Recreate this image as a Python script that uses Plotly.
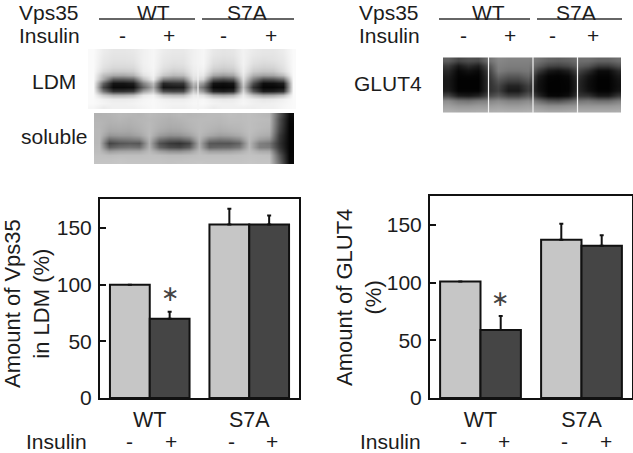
import plotly.graph_objects as go

W, H = 633, 453
FONT = "Liberation Sans"
INK = "#1c1c1c"

# ---- bar data ----
groups = ["WT", "S7A"]
vps35_minus = [100, 153]
vps35_plus = [70, 153]
vps35_minus_err = [0, 14]
vps35_plus_err = [6, 8]
glut4_minus = [101, 137]
glut4_plus = [59, 132]
glut4_minus_err = [0, 14]
glut4_plus_err = [12, 9]

# ---- blot grey levels (rows top to bottom, columns left to right) ----
ldm_cols = [93, 103, 113, 123, 133, 143, 153, 163, 173, 183, 193, 203, 213, 223, 233, 243, 253, 263, 273, 283, 293]
ldm_rows = [51, 55, 59, 63, 67, 71, 75, 79, 83, 87, 91, 95, 99, 103, 107]
ldm_grey = [
    [250, 236, 230, 230, 232, 240, 246, 236, 232, 232, 240, 246, 232, 228, 230, 242, 234, 230, 230, 236, 250],
    [250, 234, 228, 228, 230, 240, 246, 234, 230, 230, 240, 246, 230, 226, 228, 242, 232, 228, 228, 234, 250],
    [250, 232, 226, 226, 228, 240, 246, 232, 228, 228, 240, 246, 226, 222, 224, 242, 228, 224, 226, 232, 250],
    [250, 230, 222, 222, 224, 240, 246, 230, 224, 226, 240, 246, 222, 216, 220, 242, 224, 218, 220, 230, 250],
    [250, 226, 216, 216, 218, 238, 246, 226, 218, 220, 238, 244, 214, 208, 212, 240, 216, 210, 212, 226, 250],
    [250, 216, 202, 202, 206, 236, 244, 218, 206, 210, 236, 240, 200, 192, 198, 238, 204, 196, 198, 220, 250],
    [250, 190, 170, 168, 178, 225, 242, 200, 184, 188, 232, 232, 168, 156, 166, 232, 176, 162, 166, 190, 250],
    [250, 170, 90, 90, 100, 190, 236, 130, 120, 126, 224, 210, 90, 76, 90, 222, 130, 80, 84, 110, 250],
    [250, 100, 20, 20, 30, 130, 190, 40, 50, 54, 190, 150, 20, 14, 22, 206, 80, 14, 16, 30, 250],
    [250, 70, 10, 10, 14, 100, 170, 20, 24, 28, 170, 110, 8, 6, 10, 192, 50, 6, 6, 14, 250],
    [250, 120, 50, 50, 60, 160, 200, 80, 70, 74, 205, 150, 40, 30, 42, 214, 90, 28, 32, 50, 250],
    [250, 205, 180, 180, 190, 232, 242, 200, 190, 190, 236, 225, 180, 170, 180, 236, 190, 165, 170, 190, 250],
    [250, 240, 234, 234, 236, 244, 248, 240, 236, 236, 244, 246, 236, 232, 234, 244, 236, 230, 232, 240, 250],
    [250, 244, 240, 240, 242, 246, 248, 244, 242, 242, 246, 248, 242, 240, 240, 246, 240, 238, 240, 244, 250],
    [246, 236, 240, 240, 240, 244, 248, 244, 240, 240, 244, 244, 236, 240, 240, 240, 238, 240, 240, 246, 250],
]

soluble_cols = [99, 109, 119, 129, 139, 149, 159, 169, 179, 189, 199, 209, 219, 229, 239, 249, 259, 269, 279, 289]
soluble_rows = [115, 119, 123, 127, 131, 135, 139, 143, 147, 151, 155, 159, 163]
soluble_grey = [
    [178, 180, 184, 182, 180, 186, 182, 180, 184, 182, 184, 186, 186, 190, 188, 190, 186, 182, 90, 12],
    [180, 178, 182, 178, 182, 184, 180, 176, 180, 184, 186, 186, 184, 188, 188, 190, 188, 186, 80, 8],
    [182, 176, 178, 176, 180, 186, 178, 174, 176, 182, 186, 184, 182, 186, 186, 190, 186, 184, 80, 6],
    [182, 172, 174, 172, 178, 186, 176, 170, 172, 180, 186, 182, 178, 182, 184, 190, 186, 182, 75, 5],
    [184, 166, 168, 166, 174, 186, 170, 162, 164, 174, 186, 178, 172, 176, 180, 190, 182, 178, 70, 4],
    [184, 150, 154, 154, 164, 186, 156, 144, 146, 160, 184, 168, 158, 162, 170, 188, 176, 170, 60, 4],
    [184, 110, 120, 124, 132, 180, 118, 100, 100, 120, 180, 130, 120, 125, 140, 186, 160, 150, 55, 4],
    [184, 68, 84, 90, 86, 174, 82, 58, 50, 70, 172, 88, 84, 84, 100, 182, 128, 118, 50, 4],
    [186, 96, 110, 116, 112, 178, 100, 76, 70, 92, 176, 100, 104, 106, 120, 184, 128, 124, 55, 4],
    [188, 156, 164, 166, 166, 186, 160, 146, 144, 156, 186, 160, 160, 162, 170, 190, 172, 170, 70, 4],
    [192, 188, 190, 190, 190, 192, 190, 186, 186, 188, 192, 190, 190, 190, 192, 194, 192, 190, 90, 5],
    [194, 194, 196, 194, 194, 194, 194, 192, 192, 194, 194, 194, 194, 194, 194, 196, 194, 194, 100, 6],
    [196, 196, 198, 196, 196, 196, 196, 194, 196, 196, 198, 196, 196, 196, 196, 198, 196, 196, 110, 8],
]

glut4_cols = [448, 458, 468, 478, 488, 498, 508, 518, 528, 538, 548, 558, 568, 578, 588, 598, 608, 618]
glut4_rows = [60, 65, 70, 75, 80, 85, 90, 95, 100, 105, 110]
glut4_grey = [
    [95, 70, 80, 75, 110, 135, 130, 130, 130, 115, 100, 95, 100, 110, 110, 100, 100, 110],
    [60, 25, 45, 30, 80, 130, 125, 125, 125, 95, 70, 65, 75, 95, 85, 60, 60, 80],
    [40, 8, 18, 10, 60, 125, 115, 115, 120, 60, 25, 18, 30, 70, 45, 12, 12, 40],
    [30, 4, 6, 4, 50, 105, 90, 90, 105, 30, 6, 4, 10, 50, 22, 4, 4, 25],
    [25, 2, 2, 2, 45, 85, 65, 65, 85, 20, 3, 2, 5, 40, 15, 2, 2, 18],
    [25, 2, 2, 2, 45, 70, 35, 35, 65, 18, 2, 2, 4, 38, 14, 2, 2, 16],
    [30, 3, 3, 3, 45, 65, 25, 25, 60, 20, 2, 2, 4, 40, 18, 3, 3, 20],
    [70, 30, 25, 35, 70, 90, 65, 65, 90, 40, 8, 6, 14, 55, 50, 25, 25, 55],
    [140, 120, 115, 125, 130, 140, 130, 130, 140, 110, 85, 80, 95, 115, 120, 110, 110, 125],
    [160, 150, 150, 155, 155, 160, 155, 155, 160, 150, 140, 140, 145, 150, 150, 150, 150, 155],
    [175, 170, 170, 172, 172, 175, 172, 172, 175, 170, 165, 165, 168, 170, 170, 170, 170, 172],
]


def dom_x(a, b):
    return [a / W, b / W]


def dom_y(top, bottom):
    return [1 - bottom / H, 1 - top / H]


fig = go.Figure()


def add_bars(name_minus, name_plus, vm, vp, em, ep, xa, ya):
    for name, vals, errs, col in [(name_minus, vm, em, "#c6c6c6"), (name_plus, vp, ep, "#454545")]:
        fig.add_trace(go.Bar(
            x=groups, y=vals, name=name, xaxis=xa, yaxis=ya, offsetgroup=name,
            marker=dict(color=col, line=dict(color="#111111", width=2)),
            error_y=dict(type="data", symmetric=False, array=errs, arrayminus=[0, 0],
                         color="#111111", thickness=2, width=2),
            showlegend=False,
        ))


add_bars("WT-", "WT+", vps35_minus, vps35_plus, vps35_minus_err, vps35_plus_err, "x", "y")
add_bars("G-", "G+", glut4_minus, glut4_plus, glut4_minus_err, glut4_plus_err, "x2", "y2")


def add_blot(cols, rows, grey, xa, ya):
    fig.add_trace(go.Heatmap(
        x=cols, y=rows, z=grey, xaxis=xa, yaxis=ya, zmin=0, zmax=255, zsmooth="best",
        colorscale=[[0, "#000000"], [1, "#ffffff"]], showscale=False, hoverinfo="skip",
    ))


add_blot(ldm_cols, ldm_rows, ldm_grey, "x3", "y3")
add_blot(soluble_cols, soluble_rows, soluble_grey, "x4", "y4")
add_blot(glut4_cols, glut4_rows, glut4_grey, "x5", "y5")

tick = dict(size=21, family=FONT, color=INK)
cat_tick = dict(size=21.5, family=FONT, color=INK)


def val_axis(top, bottom, rng):
    return dict(domain=dom_y(top, bottom), range=rng, tickvals=[0, 50, 100, 150], ticks="inside", ticklen=6,
                tickwidth=2, tickcolor="#111111", showline=True, linewidth=2, linecolor="#111111", mirror=True,
                showgrid=False, zeroline=False, tickfont=tick, ticklabelstandoff=2, automargin=False)


def cat_axis(a, b, anchor):
    return dict(domain=dom_x(a, b), range=[-0.5, 1.5], type="category", showline=True, linewidth=2,
                linecolor="#111111", mirror=True, ticks="", showgrid=False, tickfont=cat_tick, anchor=anchor,
                ticklabelstandoff=1, automargin=False)


def hidden(dom, rng, anchor):
    return dict(domain=dom, range=rng, visible=False, anchor=anchor, fixedrange=True, automargin=False)


layout = dict(
    width=W, height=H, margin=dict(l=0, r=0, t=0, b=0), autosize=False,
    paper_bgcolor="white", plot_bgcolor="white", barmode="group", bargap=0.2, bargroupgap=0,
    font=dict(family=FONT, size=21, color=INK), showlegend=False,
    xaxis=cat_axis(100, 299, "y"),
    yaxis=dict(val_axis(199, 398, [0, 175.6]), anchor="x"),
    xaxis2=cat_axis(430, 632, "y2"),
    yaxis2=dict(val_axis(196, 398, [0, 175]), anchor="x2"),
    xaxis3=hidden(dom_x(88, 296), [88, 296], "y3"),
    yaxis3=hidden(dom_y(49, 110), [110, 49], "x3"),
    xaxis4=hidden(dom_x(94, 295), [94, 295], "y4"),
    yaxis4=hidden(dom_y(113, 164), [164, 113], "x4"),
    xaxis5=hidden(dom_x(443, 621), [443, 621], "y5"),
    yaxis5=hidden(dom_y(57, 113), [113, 57], "x5"),
)
fig.update_layout(**layout)

# ---- text labels: (text, px x, px y) ----
labels = [
    ("Vps35", 49, 12), ("WT", 153, 12), ("S7A", 247, 12),
    ("Vps35", 389, 12), ("WT", 488, 12), ("S7A", 576, 12),
    ("Insulin", 49, 36),
    ("-", 122, 36), ("+", 169, 36), ("-", 223, 36), ("+", 271, 36),
    ("LDM", 54, 81), ("soluble", 54, 136),
    ("Insulin", 389, 36),
    ("-", 463, 36), ("+", 510, 36), ("-", 552, 36), ("+", 593, 36),
    ("GLUT4", 388, 83),
    ("Insulin", 56, 441), ("-", 129, 441), ("+", 171, 441), ("-", 231, 441), ("+", 272, 441),
    ("Insulin", 390, 441), ("-", 463, 441), ("+", 504, 441), ("-", 564, 441), ("+", 606, 441),
]
for text, px, py in labels:
    fig.add_annotation(text=text, x=px / W, y=1 - py / H, xref="paper", yref="paper", showarrow=False,
                       xanchor="center", yanchor="middle", font=dict(size=21, family=FONT, color=INK))

# y-axis titles
for text, px, py in [("Amount of Vps35<br>in LDM (%)", 27, 304), ("Amount of GLUT4<br>(%)", 359, 298)]:
    fig.add_annotation(text=text, x=px / W, y=1 - py / H, xref="paper", yref="paper", showarrow=False,
                       xanchor="center", yanchor="middle", textangle=-90,
                       font=dict(size=22, family=FONT, color=INK))

# significance stars
fig.add_annotation(text="∗", x=0.2, y=92, xref="x", yref="y", showarrow=False,
                   font=dict(size=22, family="DejaVu Sans", color="#444444"))
fig.add_annotation(text="∗", x=0.19, y=86, xref="x2", yref="y2", showarrow=False,
                   font=dict(size=22, family="DejaVu Sans", color="#444444"))

# header rules and blot lane separators
for x0, x1 in [(99, 195), (202, 294), (439, 530), (537, 622)]:
    fig.add_shape(type="line", xref="paper", yref="paper", x0=x0 / W, x1=x1 / W, y0=1 - 19 / H, y1=1 - 19 / H,
                  line=dict(color="#333333", width=1.5))
for px, top, bottom in [(198, 49, 110), (488.5, 57, 113), (533, 57, 113), (577.5, 57, 113)]:
    fig.add_shape(type="line", xref="paper", yref="paper", x0=px / W, x1=px / W, y0=1 - top / H, y1=1 - bottom / H,
                  line=dict(color="#f4f4f4", width=1.2))

fig.write_html("out.html", config={"displayModeBar": False}, post_script="document.body.style.margin='0';")
